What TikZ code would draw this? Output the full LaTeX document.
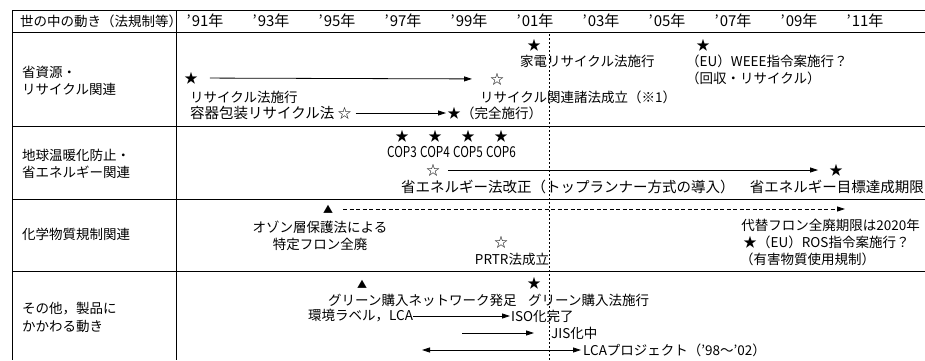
\documentclass[tikz,border=0pt]{standalone}
\usepackage{fontspec}
\setmainfont{Noto Sans CJK JP}
\usetikzlibrary{arrows.meta}
\begin{document}
\begin{tikzpicture}[x=1pt,y=-1pt,
  every node/.style={font=\fontsize{13.5}{15}\selectfont, inner sep=0pt, text=black},
  frame/.style={line width=1pt},
  arr/.style={line width=0.8pt, -{Triangle[length=8pt,width=5pt]}},
  dbl/.style={line width=0.8pt, {Triangle[length=8pt,width=5pt]}-{Triangle[length=8pt,width=5pt]}},
  darr/.style={line width=0.8pt, dash pattern=on 4pt off 2.5pt, -{Triangle[length=8pt,width=5pt]}},
  vline/.style={line width=0.9pt, dash pattern=on 2pt off 2pt},
  tri/.style={font=\fontsize{10}{10}\selectfont},
  yrs/.style={font=\fontsize{15}{15}\selectfont},
  cop/.style={font=\fontsize{15}{15}\selectfont},
  big/.style={font=\fontsize{14.5}{15}\selectfont},
  w/.style={anchor=west},
  e/.style={anchor=east}]
\useasboundingbox (0,0) rectangle (925,360);
% frame
\draw[frame] (12,10) -- (925,10);
\draw[frame] (12,32) -- (925,32);
\draw[frame] (12,126) -- (925,126);
\draw[frame] (12,199) -- (925,199);
\draw[frame] (12,271) -- (925,271);
\draw[frame] (12,10) -- (12,360);
\draw[frame] (176,10) -- (176,360);
\draw[vline] (549,34) -- (549,360);
% header
\node[w] (hdr) at (20,21) {世の中の動き（法規制等）};
\foreach \i/\yy in {0/91,1/93,2/95,3/97,4/99,5/01,6/03,7/05,8/07,9/09,10/11}
  \node[yrs] (yr\i) at (205+66*\i,21) {’\hspace{1pt}\yy 年};
% row labels
\node[w] (r1a) at (22,72) {省資源・};
\node[w] (r1b) at (22,89) {リサイクル関連};
\node[w] (r2a) at (22,155) {地球温暖化防止・};
\node[w] (r2b) at (22,172) {省エネルギー関連};
\node[w] (r3) at (22,234) {化学物質規制関連};
\node[w] (r4a) at (22,309) {その他，製品に};
\node[w] (r4b) at (22,326) {かかわる動き};
% row 1
\node (s1) at (191,78) {★};
\node (w1) at (497,79) {☆};
\draw[arr, shorten <=12pt, shorten >=18pt] (s1) -- (w1);
\node[w] (t1) at (190,97) {リサイクル法施行};
\node[w] (t2) at (480,97) {リサイクル関連諸法成立（※1）};
\node[w,big] (t3) at (190,113) {容器包装リサイクル法};
\node[w] (w2) at ([xshift=3pt]t3.east) {☆};
\node (s2) at (454,113) {★};
\draw[arr, shorten <=4pt, shorten >=1pt] (w2) -- (s2);
\node[w] (t3b) at (461,113) {（完全施行）};
\node (s3) at (534,45) {★};
\node[w] (t4) at (520,61) {家電リサイクル法施行};
\node (s4) at (703,45) {★};
\node[w] (t5) at (686,61) {（EU）WEEE指令案施行？};
\node[w] (t6) at (686,78) {（回収・リサイクル）};
% row 2
\foreach \i/\c in {0/3,1/4,2/5,3/6}{
  \node (cs\i) at (402+33*\i,136) {★};
  \node[cop] (cl\i) at (402+33*\i,152) {\scalebox{0.78}[1]{COP\c}};
}
\node (w3) at (433,170) {☆};
\node (s9) at (836,170) {★};
\draw[arr, shorten <=8pt, shorten >=11pt] (w3) -- (s9);
\node[w,big] (t7) at (401,187) {省エネルギー法改正（トップランナー方式の導入）};
\node[e,big] (t8) at (924,187) {省エネルギー目標達成期限};
% row 3
\node[tri] (tri1) at (328,209) {▲};
\coordinate (e1) at (845,209);
\draw[darr, shorten <=10pt] (tri1) -- (e1);
\node (t9a) at (320,227) {オゾン層保護法による};
\node (t9b) at (320,244) {特定フロン全廃};
\node (w4) at (501,242) {☆};
\node (t10) at (512,259) {PRTR法成立};
\node[e] (t11) at (920,225) {代替フロン全廃期限は2020年};
\node (s10) at (750,242) {★};
\node[w] (t12) at (757,242) {（EU）ROS指令案施行？};
\node[w] (t13) at (740,259) {（有害物質使用規制）};
% row 4
\node[tri] (tri2) at (362,284) {▲};
\node (s11) at (534,283) {★};
\node[w] (t14) at (328,300) {グリーン購入ネットワーク発足};
\node[w] (t15) at (528,300) {グリーン購入法施行};
\node[w] (t16) at (308,316) {環境ラベル，LCA};
\node[w] (t17) at (511,316) {ISO化完了};
\draw[arr, shorten >=1pt] (t16) -- (t17);
\coordinate (a1) at (462,333);
\node[w] (t18) at (551,333) {JIS化中};
\draw[arr, shorten >=17pt] (a1) -- (t18);
\coordinate (a2) at (422,350);
\node[w] (t19) at (583,350) {LCAプロジェクト（’98～’02）};
\draw[dbl, shorten >=2pt] (a2) -- (t19);
\end{tikzpicture}
\end{document}
